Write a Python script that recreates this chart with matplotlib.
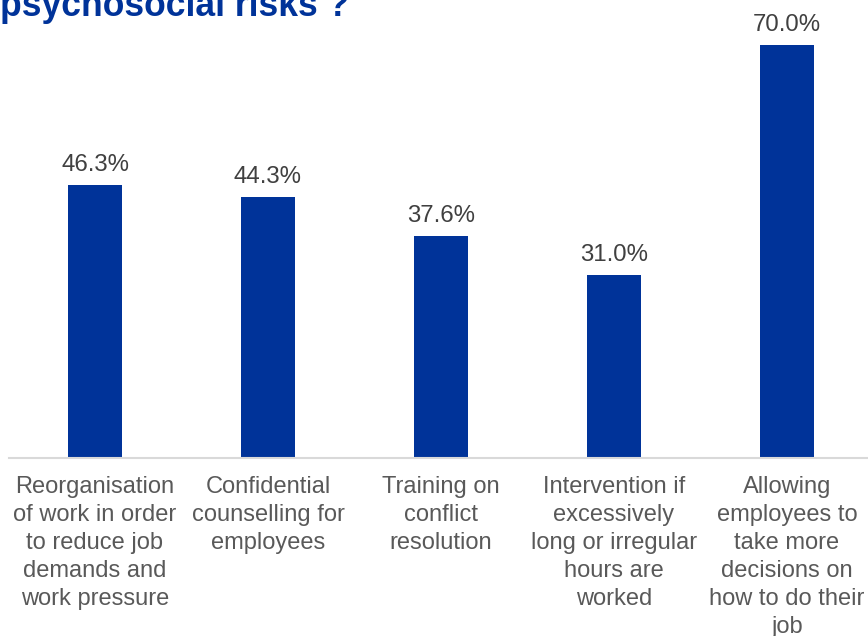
import matplotlib
matplotlib.use("Agg")
import matplotlib.pyplot as plt

categories = [
    "Reorganisation\nof work in order\nto reduce job\ndemands and\nwork pressure",
    "Confidential\ncounselling for\nemployees",
    "Training on\nconflict\nresolution",
    "Intervention if\nexcessively\nlong or irregular\nhours are\nworked",
    "Allowing\nemployees to\ntake more\ndecisions on\nhow to do their\njob",
]
values = [46.3, 44.3, 37.6, 31.0, 70.0]
title = "psychosocial risks ?"

plt.rcParams['font.family'] = ['Liberation Sans', 'DejaVu Sans']

W, H = 868, 636
fig = plt.figure(figsize=(W / 100, H / 100), dpi=100)
ax = fig.add_axes([8.5 / W, 178 / H, 865 / W, 458 / H])

x = list(range(len(values)))
ax.bar(x, values, width=0.31, color="#003399", zorder=2)
ax.set_xlim(-0.5, len(values) - 0.5)
ax.set_ylim(0, 77.6)

for xi, v in zip(x, values):
    ax.annotate(f"{v:.1f}%", (xi, v), xytext=(0, 10), textcoords="offset points",
                ha="center", va="baseline", fontsize=17.3, color="#404040")

ax.set_xticks(x)
ax.set_xticklabels(categories, fontsize=17, color="#595959", linespacing=1.35)
ax.tick_params(axis="x", length=0, pad=12.8)
ax.set_yticks([])
for s in ["top", "right", "left"]:
    ax.spines[s].set_visible(False)
ax.spines["bottom"].set_color("#d9d9d9")
ax.spines["bottom"].set_linewidth(1.5)

fig.text(0.0, 1 - 16 / H, title, ha="left", va="baseline", fontsize=25.6,
         fontweight="bold", color="#003399")

fig.savefig("out.png", dpi=100)
